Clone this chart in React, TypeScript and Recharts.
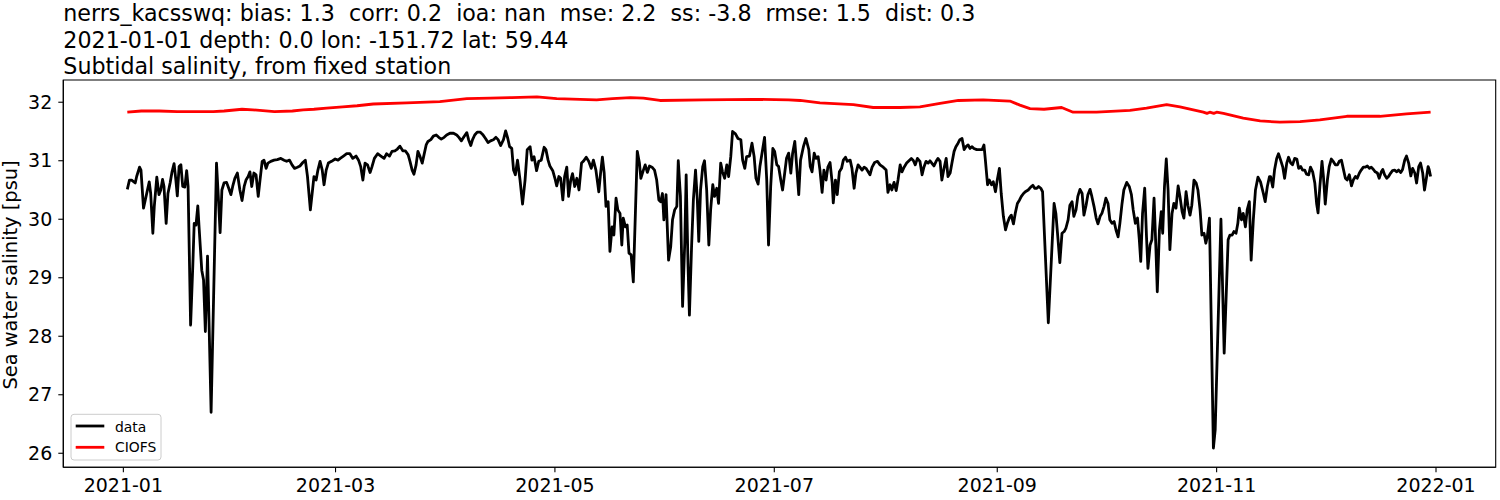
import { LineChart, Line, XAxis, YAxis, ReferenceArea } from 'recharts';

// day offsets are days since 2021-01-01
const tickDays = [0, 59, 120, 181, 243, 304, 365];
const tickLabels = ['2021-01', '2021-03', '2021-05', '2021-07', '2021-09', '2021-11', '2022-01'];
const yTicks = [26, 27, 28, 29, 30, 31, 32];

const xDomain: [number, number] = [-16.7, 381.6];
const yDomain: [number, number] = [25.76, 32.38];

const titleLines = [
  'nerrs_kacsswq: bias: 1.3  corr: 0.2  ioa: nan  mse: 2.2  ss: -3.8  rmse: 1.5  dist: 0.3',
  '2021-01-01 depth: 0.0 lon: -151.72 lat: 59.44',
  'Subtidal salinity, from fixed station',
];

// observed salinity (data)
const observed: [number, number][] = [
  [1.1, 30.51], [1.7, 30.67], [2.3, 30.67], [3.3, 30.62], [3.7, 30.73], [4.5, 30.89], [4.9, 30.84],
  [5.6, 30.19], [6.1, 30.33], [6.7, 30.5], [7.2, 30.64], [7.6, 30.44], [8.2, 29.76], [8.6, 30.22],
  [9.3, 30.72], [9.9, 30.42], [10.4, 30.5], [10.9, 30.68], [11.3, 30.56], [11.9, 29.93], [12.4, 30.44],
  [13.0, 30.62], [13.5, 30.8], [14.1, 30.95], [14.6, 30.67], [15.0, 30.4], [15.5, 30.9], [16.0, 30.93],
  [16.5, 30.56], [17.1, 30.55], [17.6, 30.83], [18.0, 30.56], [18.7, 28.19], [19.3, 29.19], [19.7, 29.93],
  [20.2, 29.9], [20.7, 30.23], [21.1, 29.82], [21.8, 29.13], [22.3, 28.96], [22.8, 28.08], [23.4, 29.37],
  [24.4, 26.7], [25.9, 30.96], [26.4, 30.39], [26.9, 29.77], [27.4, 30.5], [28.0, 30.62], [28.7, 30.63],
  [29.3, 30.53], [29.9, 30.42], [30.4, 30.56], [31.0, 30.7], [31.7, 30.79], [32.4, 30.5], [33.0, 30.32],
  [33.6, 30.56], [34.1, 30.67], [34.7, 30.73], [35.2, 30.81], [35.7, 30.56], [36.3, 30.79], [36.9, 30.76],
  [37.5, 30.39], [38.0, 30.67], [38.6, 30.99], [39.1, 31.01], [39.7, 30.87], [40.2, 30.96], [41.0, 30.99],
  [41.9, 31.01], [42.8, 31.02], [43.8, 31.04], [44.7, 31.01], [45.4, 30.99], [46.2, 31.01], [46.9, 30.93],
  [47.6, 30.87], [48.4, 30.89], [49.1, 30.91], [49.9, 30.97], [50.6, 31.01], [51.2, 30.73], [52.0, 30.16],
  [52.6, 30.5], [53.0, 30.73], [53.6, 30.67], [54.1, 30.84], [54.7, 30.99], [55.3, 30.84], [55.8, 30.59],
  [56.4, 30.84], [57.0, 30.96], [57.9, 30.99], [58.9, 31.03], [59.7, 31.01], [60.3, 31.04], [61.2, 31.08],
  [62.1, 31.12], [63.0, 31.12], [63.8, 31.04], [64.7, 31.08], [65.4, 31.01], [66.0, 30.9], [66.6, 30.67],
  [67.2, 30.96], [67.9, 30.93], [68.6, 30.8], [69.1, 30.89], [69.8, 31.04], [70.7, 31.12], [71.6, 31.08],
  [72.5, 31.04], [73.2, 31.12], [74.0, 31.08], [74.7, 31.16], [75.5, 31.17], [76.2, 31.2], [76.9, 31.25],
  [77.7, 31.17], [78.4, 31.17], [79.2, 31.1], [79.7, 30.99], [80.3, 30.84], [80.8, 30.77], [81.4, 30.93],
  [81.9, 31.16], [82.5, 31.07], [83.1, 30.96], [83.6, 31.1], [84.2, 31.27], [84.7, 31.33], [85.5, 31.36],
  [86.2, 31.42], [87.0, 31.44], [87.7, 31.4], [88.4, 31.37], [89.2, 31.4], [89.9, 31.44], [90.8, 31.47],
  [91.8, 31.47], [92.7, 31.44], [93.3, 31.4], [94.0, 31.34], [94.7, 31.41], [95.5, 31.48], [96.0, 31.36],
  [96.6, 31.26], [97.1, 31.36], [97.7, 31.44], [98.4, 31.49], [99.2, 31.49], [99.9, 31.45], [100.7, 31.38],
  [101.4, 31.31], [102.1, 31.34], [102.9, 31.36], [103.6, 31.4], [104.2, 31.36], [104.9, 31.26], [105.7, 31.36],
  [106.3, 31.51], [106.9, 31.38], [107.4, 31.24], [108.0, 31.21], [108.5, 30.84], [109.0, 30.76], [109.6, 31.01],
  [110.3, 30.67], [111.0, 30.26], [111.7, 30.67], [112.3, 31.19], [113.1, 31.24], [113.6, 31.01], [114.2, 31.07],
  [114.9, 30.83], [115.5, 30.99], [116.2, 31.01], [117.0, 31.23], [117.5, 31.19], [118.1, 31.01], [118.6, 30.91],
  [119.4, 30.83], [120.0, 30.7], [120.5, 30.57], [121.1, 30.73], [121.6, 30.7], [122.2, 30.33], [122.7, 30.73],
  [123.3, 30.89], [123.8, 30.39], [124.4, 30.67], [124.9, 30.78], [125.5, 30.56], [126.1, 30.7], [126.7, 30.5],
  [127.4, 30.96], [127.9, 30.99], [128.7, 31.06], [129.4, 30.99], [130.1, 30.87], [130.7, 31.01], [131.4, 30.84],
  [132.2, 30.47], [132.7, 30.79], [133.2, 31.06], [133.7, 30.79], [134.2, 30.22], [134.8, 30.3], [135.3, 29.45],
  [135.9, 29.87], [136.4, 29.73], [137.0, 30.36], [137.5, 30.16], [138.1, 30.1], [138.6, 29.56], [139.0, 30.02],
  [139.6, 29.87], [140.1, 29.9], [140.6, 29.42], [141.2, 29.39], [141.8, 28.93], [142.9, 31.16], [143.5, 30.96],
  [143.9, 30.7], [144.6, 30.84], [145.1, 30.93], [145.7, 30.8], [146.3, 30.91], [147.0, 30.89], [147.7, 30.84],
  [148.3, 30.67], [148.9, 30.33], [149.4, 30.3], [149.9, 30.44], [150.3, 29.99], [150.9, 30.42], [151.6, 29.3],
  [152.2, 29.53], [152.7, 29.99], [153.3, 30.16], [153.9, 30.22], [154.3, 31.0], [154.9, 30.39], [155.5, 28.51],
  [156.1, 29.59], [156.5, 30.76], [157.0, 29.25], [157.4, 28.36], [158.0, 29.53], [158.5, 30.33], [159.1, 30.84],
  [159.6, 30.33], [160.0, 29.62], [160.5, 30.5], [161.1, 30.9], [161.6, 31.0], [162.2, 30.5], [162.8, 29.56],
  [163.3, 30.16], [163.9, 30.59], [164.4, 30.39], [165.0, 30.53], [165.5, 30.27], [166.1, 30.96], [166.6, 30.81],
  [167.2, 30.7], [167.8, 30.93], [168.3, 30.73], [168.9, 31.07], [169.4, 31.5], [170.2, 31.46], [170.9, 31.38],
  [171.7, 31.36], [172.2, 31.01], [172.8, 30.87], [173.3, 31.07], [174.1, 31.08], [174.8, 31.3], [175.4, 31.07],
  [175.9, 30.7], [176.5, 30.6], [177.0, 30.9], [177.8, 31.21], [178.3, 31.4], [178.9, 30.67], [179.4, 29.56],
  [180.0, 30.56], [180.6, 31.21], [181.1, 31.16], [181.7, 30.93], [182.2, 30.9], [182.8, 30.67], [183.3, 30.5],
  [183.9, 30.79], [184.4, 31.04], [185.0, 31.13], [185.6, 30.79], [186.1, 31.13], [186.7, 31.33], [187.2, 30.93],
  [187.8, 30.42], [188.3, 31.01], [189.1, 31.24], [189.8, 31.38], [190.6, 31.19], [191.0, 30.9], [191.5, 30.81],
  [192.1, 31.13], [192.6, 31.04], [193.2, 31.07], [193.7, 30.84], [194.3, 30.46], [194.8, 30.84], [195.4, 30.67],
  [195.9, 30.89], [196.5, 30.97], [197.1, 30.62], [197.4, 30.28], [198.0, 30.67], [198.5, 30.42], [199.1, 30.81],
  [199.7, 30.87], [200.2, 31.01], [200.8, 31.06], [201.3, 30.99], [202.1, 31.01], [202.6, 30.87], [203.2, 30.53],
  [203.7, 30.79], [204.3, 30.93], [204.8, 30.89], [205.4, 30.84], [206.0, 30.89], [206.5, 30.87], [207.1, 30.81],
  [207.6, 30.76], [208.2, 30.89], [208.9, 30.97], [209.7, 30.99], [210.4, 30.93], [211.3, 30.89], [212.1, 30.84],
  [212.6, 30.46], [213.2, 30.59], [213.7, 30.5], [214.3, 30.63], [214.9, 30.49], [215.4, 30.67], [216.0, 30.93],
  [216.5, 30.81], [217.1, 30.89], [217.8, 30.96], [218.6, 31.01], [219.1, 31.04], [219.7, 31.0], [220.2, 30.93],
  [220.8, 31.04], [221.5, 30.99], [222.1, 30.76], [222.6, 30.89], [223.2, 30.99], [223.8, 30.96], [224.3, 31.0],
  [224.9, 30.95], [225.4, 30.91], [226.0, 30.99], [226.5, 31.04], [227.1, 30.99], [227.6, 30.67], [228.2, 30.87],
  [228.8, 31.04], [229.3, 30.73], [229.9, 30.79], [230.4, 30.96], [231.0, 31.16], [231.5, 31.24], [232.1, 31.3],
  [232.6, 31.36], [233.2, 31.38], [233.8, 31.19], [234.3, 31.24], [234.9, 31.27], [235.4, 31.21], [236.0, 31.24],
  [236.5, 31.21], [237.3, 31.19], [238.0, 31.19], [238.8, 31.19], [239.3, 31.27], [239.7, 31.01], [240.3, 30.59],
  [240.8, 30.67], [241.4, 30.59], [241.9, 30.64], [242.5, 30.47], [243.0, 30.67], [243.6, 30.87], [244.1, 30.44],
  [244.7, 30.05], [245.3, 29.82], [245.8, 29.93], [246.4, 30.03], [246.9, 30.07], [247.5, 29.92], [248.0, 30.1],
  [248.6, 30.27], [249.2, 30.33], [249.7, 30.39], [250.3, 30.44], [250.8, 30.47], [251.6, 30.5], [252.3, 30.55],
  [252.9, 30.58], [253.4, 30.53], [254.0, 30.53], [254.5, 30.56], [255.1, 30.53], [255.6, 30.47], [257.2, 28.23],
  [258.8, 30.27], [259.3, 30.1], [259.9, 29.65], [260.4, 29.26], [261.0, 29.76], [261.6, 29.79], [262.1, 29.85],
  [262.7, 29.99], [263.2, 30.24], [263.8, 30.3], [264.3, 30.05], [264.9, 30.16], [265.4, 30.39], [266.0, 30.51],
  [266.6, 30.44], [267.1, 30.07], [267.7, 30.24], [268.2, 30.42], [268.8, 30.51], [269.3, 30.39], [269.9, 30.22],
  [270.5, 30.02], [271.0, 29.92], [271.6, 30.05], [272.1, 30.1], [272.7, 30.22], [273.2, 30.36], [273.8, 30.27],
  [274.3, 29.99], [274.9, 29.93], [275.5, 29.96], [276.0, 29.82], [276.6, 29.7], [277.1, 29.93], [277.7, 30.27],
  [278.2, 30.5], [279.0, 30.63], [279.7, 30.56], [280.3, 30.42], [280.8, 30.16], [281.4, 29.93], [282.0, 30.02],
  [282.5, 29.65], [282.9, 29.28], [283.4, 30.1], [284.0, 30.53], [284.5, 29.7], [284.9, 29.16], [285.5, 29.56],
  [286.0, 29.65], [286.6, 30.36], [287.1, 29.53], [287.5, 28.76], [288.1, 29.82], [288.6, 30.13], [289.0, 29.76],
  [289.5, 30.56], [290.0, 31.03], [290.5, 30.5], [291.0, 29.48], [291.6, 30.1], [292.1, 30.27], [292.7, 30.19],
  [293.3, 30.57], [293.8, 30.39], [294.4, 30.13], [294.9, 30.02], [295.5, 30.47], [296.0, 30.24], [296.6, 30.07],
  [297.1, 30.24], [297.7, 30.67], [298.3, 30.62], [298.8, 30.5], [299.4, 30.16], [299.9, 29.73], [300.5, 29.76],
  [301.0, 29.59], [301.4, 29.7], [302.0, 30.02], [303.1, 26.09], [303.6, 26.4], [305.2, 30.0], [306.1, 27.71],
  [307.2, 29.65], [307.7, 29.73], [308.3, 29.73], [308.8, 29.79], [309.4, 29.76], [309.9, 29.93], [310.3, 30.19],
  [310.9, 29.99], [311.4, 30.1], [312.0, 29.87], [312.5, 30.16], [313.1, 30.3], [313.6, 29.3], [314.2, 29.99],
  [314.8, 30.5], [315.5, 30.72], [316.2, 30.64], [317.0, 30.44], [317.5, 30.3], [318.1, 30.56], [318.7, 30.73],
  [319.0, 30.73], [319.6, 30.55], [320.1, 30.84], [320.7, 31.04], [321.2, 31.12], [321.8, 31.01], [322.4, 30.89],
  [322.9, 30.7], [323.5, 30.96], [324.0, 31.06], [324.6, 30.96], [325.1, 30.93], [325.7, 31.04], [326.3, 31.03],
  [326.8, 30.87], [327.4, 30.9], [327.9, 30.84], [328.5, 30.84], [329.0, 30.77], [329.6, 30.76], [330.1, 30.89],
  [330.7, 30.81], [331.3, 30.62], [331.8, 30.27], [332.2, 30.11], [332.7, 30.56], [333.3, 30.99], [333.7, 30.73],
  [334.2, 30.26], [334.8, 30.67], [335.3, 30.9], [335.9, 31.03], [336.4, 30.99], [337.0, 30.93], [337.6, 30.93],
  [338.1, 30.99], [338.7, 31.01], [339.2, 30.87], [339.8, 30.7], [340.3, 30.67], [340.9, 30.76], [341.5, 30.57],
  [342.0, 30.67], [342.6, 30.73], [343.1, 30.7], [343.7, 30.79], [344.2, 30.84], [344.8, 30.89], [345.3, 30.89],
  [345.9, 30.91], [346.5, 30.87], [347.0, 30.89], [347.6, 30.85], [348.1, 30.81], [348.7, 30.79], [349.2, 30.7],
  [349.8, 30.81], [350.2, 30.85], [350.7, 30.76], [351.3, 30.7], [351.8, 30.73], [352.4, 30.79], [352.9, 30.83],
  [353.5, 30.84], [354.1, 30.81], [354.6, 30.84], [355.2, 30.8], [355.7, 30.85], [356.3, 31.01], [356.8, 31.08],
  [357.4, 30.96], [358.0, 30.74], [358.5, 30.87], [359.1, 30.79], [359.6, 30.62], [360.2, 30.9], [360.7, 30.96],
  [361.3, 30.79], [361.8, 30.5], [362.4, 30.73], [362.8, 30.9], [363.1, 30.85], [363.5, 30.73],
];

// CIOFS model salinity
const model: [number, number][] = [
  [1.1, 31.83], [5, 31.85], [10, 31.85], [15, 31.84], [20, 31.84], [25, 31.84], [28, 31.85], [33, 31.88],
  [36, 31.87], [42, 31.84], [47, 31.85], [50, 31.87], [53, 31.88], [56.5, 31.9], [61, 31.92], [65, 31.94],
  [69.5, 31.97], [78.8, 31.99], [88, 32.01], [95.5, 32.06], [102, 32.07], [108, 32.08], [115, 32.09],
  [120.5, 32.06], [127, 32.05], [131.6, 32.04], [136, 32.06], [141, 32.08], [144.6, 32.07], [149.2, 32.03],
  [161.3, 32.04], [175.2, 32.05], [185, 32.04], [188.2, 32.03], [193.7, 31.99], [203, 31.96], [208.5, 31.91],
  [216, 31.91], [221.5, 31.92], [227.1, 31.98], [232.2, 32.03], [239.1, 32.04], [246.5, 32.02], [249.3, 31.95],
  [252.1, 31.89], [256, 31.88], [260.9, 31.91], [264.1, 31.83], [270.6, 31.83], [279.9, 31.86], [284.5, 31.9],
  [290.1, 31.96], [293.8, 31.92], [300.3, 31.83], [301.3, 31.81], [302.1, 31.83], [303.2, 31.81], [304.0, 31.83],
  [305.9, 31.81], [311.4, 31.73], [316.1, 31.68], [321.6, 31.66], [327.2, 31.67], [332.7, 31.7], [340.2, 31.76],
  [349.4, 31.76], [356.8, 31.8], [363.5, 31.83],
];

const observedData = observed.map(([day, value]) => ({ day, value }));
const modelData = model.map(([day, value]) => ({ day, value }));

const FONT = '"DejaVu Sans", sans-serif';
const tickStyle = { fontFamily: FONT, fontSize: 19, fill: '#000' };

function App() {
  return (
    <div style={{ position: 'absolute', left: 0, top: 0, width: 1500, height: 500, background: '#fff' }}>
      <LineChart width={1500} height={500} margin={{ top: 80, right: 4.3, bottom: 2.7, left: 0 }}>
        <XAxis
          type="number"
          dataKey="day"
          domain={xDomain}
          ticks={tickDays}
          tickFormatter={(d: number) => tickLabels[tickDays.indexOf(d)] ?? ''}
          height={30}
          tickSize={5}
          tickMargin={6}
          tick={tickStyle}
          axisLine={{ stroke: '#000', strokeWidth: 1.1 }}
          tickLine={{ stroke: '#000', strokeWidth: 1.1 }}
          allowDataOverflow
        />
        <YAxis
          type="number"
          domain={yDomain}
          ticks={yTicks}
          width={63.3}
          tickSize={5}
          tickMargin={6}
          tick={tickStyle}
          axisLine={{ stroke: '#000', strokeWidth: 1.1 }}
          tickLine={{ stroke: '#000', strokeWidth: 1.1 }}
          allowDataOverflow
        />
        <ReferenceArea
          x1={xDomain[0]}
          x2={xDomain[1]}
          y1={yDomain[0]}
          y2={yDomain[1]}
          fill="none"
          fillOpacity={0}
          stroke="#000"
          strokeWidth={1.1}
        />
        <Line
          data={observedData}
          dataKey="value"
          name="data"
          stroke="#000000"
          strokeWidth={2.8}
          strokeLinejoin="round"
          dot={false}
          activeDot={false}
          isAnimationActive={false}
        />
        <Line
          data={modelData}
          dataKey="value"
          name="CIOFS"
          stroke="#ff0000"
          strokeWidth={2.8}
          strokeLinejoin="round"
          dot={false}
          activeDot={false}
          isAnimationActive={false}
        />
      </LineChart>

      <svg
        width={1500}
        height={500}
        style={{ position: 'absolute', left: 0, top: 0, pointerEvents: 'none' }}
        fontFamily={FONT}
      >
        {titleLines.map((t, i) => (
          <text key={i} x={63.3} y={21 + i * 26.7} fontSize={22.2} fill="#000" xmlSpace="preserve" style={{ whiteSpace: 'pre' }}>
            {t}
          </text>
        ))}
        <text transform="translate(16.5,275) rotate(-90)" textAnchor="middle" fontSize={19.4} fill="#000">
          Sea water salinity [psu]
        </text>

        <rect x={71} y={414.3} width={90} height={45.7} rx={3} fill="#fff" fillOpacity={0.8} stroke="#cccccc" strokeWidth={1} />
        <line x1={75.7} x2={104.3} y1={426} y2={426} stroke="#000" strokeWidth={2.8} />
        <text x={115} y={431.5} fontSize={13.9} fill="#000">data</text>
        <line x1={75.7} x2={104.3} y1={447.3} y2={447.3} stroke="#ff0000" strokeWidth={2.8} />
        <text x={115} y={452.3} fontSize={13.9} fill="#000">CIOFS</text>
      </svg>
    </div>
  );
}

export default App;
